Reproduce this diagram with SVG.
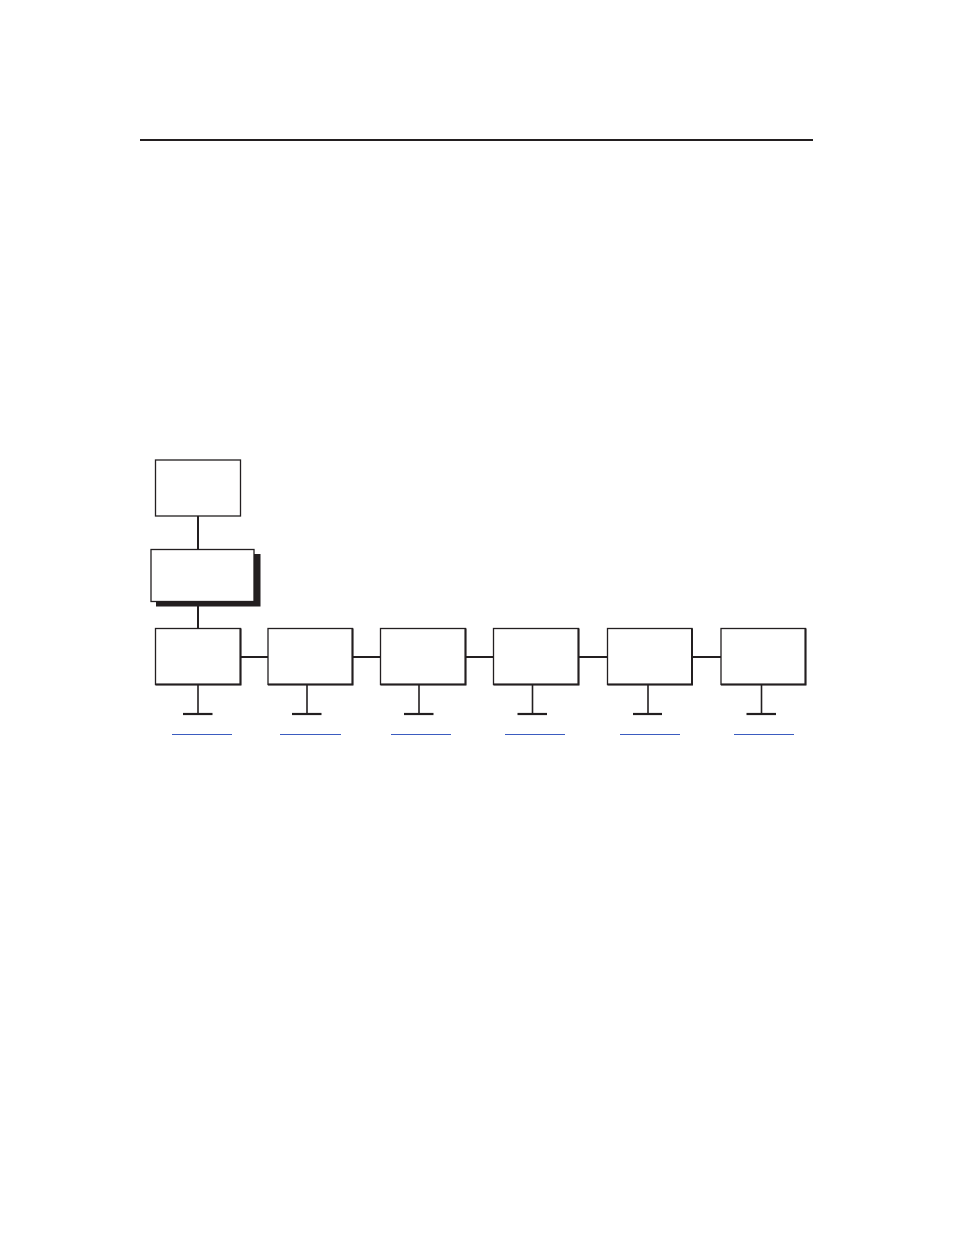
<svg xmlns="http://www.w3.org/2000/svg" width="954" height="1235" viewBox="0 0 954 1235">
<style>
.box{fill:#fff;stroke:#231f20;stroke-width:1.3}
.edge{fill:none;stroke:#231f20;stroke-width:2}
.con{stroke:#231f20;stroke-width:2;fill:none}
.stem{stroke:#231f20;stroke-width:1.6;fill:none}
.bar{stroke:#231f20;stroke-width:2.2;fill:none}
.link{stroke:#3b5cc0;stroke-width:1.2;fill:none}
</style>
<rect width="954" height="1235" fill="#fff"/>
<line x1="140" y1="140" x2="813" y2="140" stroke="#231f20" stroke-width="2"/>
<g id="connectors">
<line class="con" x1="198" y1="516" x2="198" y2="550"/>
<line class="con" x1="198" y1="601" x2="198" y2="629"/>
<line class="con" x1="240" y1="657" x2="268" y2="657"/>
<line class="con" x1="352" y1="657" x2="380" y2="657"/>
<line class="con" x1="465" y1="657" x2="493" y2="657"/>
<line class="con" x1="578" y1="657" x2="607" y2="657"/>
<line class="con" x1="692" y1="657" x2="721" y2="657"/>
<line class="stem" x1="198" y1="685" x2="198" y2="714"/>
<line class="bar" x1="183" y1="714" x2="212.5" y2="714"/>
<line class="stem" x1="307" y1="685" x2="307" y2="714"/>
<line class="bar" x1="292" y1="714" x2="321.5" y2="714"/>
<line class="stem" x1="419" y1="685" x2="419" y2="714"/>
<line class="bar" x1="404" y1="714" x2="433.5" y2="714"/>
<line class="stem" x1="532.5" y1="685" x2="532.5" y2="714"/>
<line class="bar" x1="517.5" y1="714" x2="547" y2="714"/>
<line class="stem" x1="648" y1="685" x2="648" y2="714"/>
<line class="bar" x1="633" y1="714" x2="662" y2="714"/>
<line class="stem" x1="761.5" y1="685" x2="761.5" y2="714"/>
<line class="bar" x1="746.5" y1="714" x2="776" y2="714"/>
</g>
<g id="links">
<line class="link" x1="172" y1="734.5" x2="232" y2="734.5"/>
<line class="link" x1="280" y1="734.5" x2="341" y2="734.5"/>
<line class="link" x1="391" y1="734.5" x2="451" y2="734.5"/>
<line class="link" x1="505" y1="734.5" x2="565" y2="734.5"/>
<line class="link" x1="620" y1="734.5" x2="680" y2="734.5"/>
<line class="link" x1="734" y1="734.5" x2="794" y2="734.5"/>
</g>
<g id="node-top">
<rect class="box" x="155.5" y="460" width="85" height="56"/>
</g>
<g id="node-main">
<rect x="156" y="554" width="104.5" height="52.5" fill="#231f20"/>
<rect class="box" x="151" y="549.5" width="103" height="52" stroke-width="1.8"/>
</g>
<g id="node-1">
<rect class="box" x="155.5" y="628.5" width="85" height="56"/>
<polyline class="edge" points="240.5,628.5 240.5,684.5 155.5,684.5"/>
</g>
<g id="node-2">
<rect class="box" x="268" y="628.5" width="84.5" height="56"/>
<polyline class="edge" points="352.5,628.5 352.5,684.5 268,684.5"/>
</g>
<g id="node-3">
<rect class="box" x="380.5" y="628.5" width="85" height="56"/>
<polyline class="edge" points="465.5,628.5 465.5,684.5 380.5,684.5"/>
</g>
<g id="node-4">
<rect class="box" x="493.5" y="628.5" width="85" height="56"/>
<polyline class="edge" points="578.5,628.5 578.5,684.5 493.5,684.5"/>
</g>
<g id="node-5">
<rect class="box" x="607.5" y="628.5" width="84.5" height="56"/>
<polyline class="edge" points="692,628.5 692,684.5 607.5,684.5"/>
</g>
<g id="node-6">
<rect class="box" x="721" y="628.5" width="84.5" height="56"/>
<polyline class="edge" points="805.5,628.5 805.5,684.5 721,684.5"/>
</g>
</svg>
